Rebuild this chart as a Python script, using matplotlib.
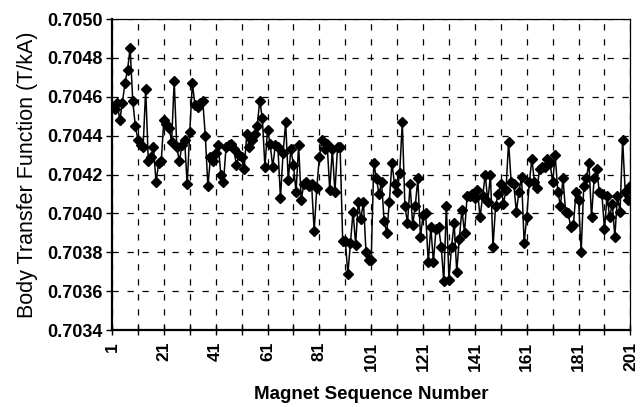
import matplotlib
matplotlib.use("Agg")
import matplotlib.pyplot as plt
import numpy as np

# Magnet sequence numbers and measured body transfer function (T/kA)
sequence = list(range(1, 202))
transfer_function = [
    0.70455, 0.70454, 0.70457, 0.70448, 0.70457, 0.70467, 0.70474, 0.70485, 0.70458, 0.70445,
    0.70438, 0.70435, 0.70434, 0.70464, 0.70427, 0.70429, 0.70434, 0.70416, 0.70426, 0.70427,
    0.70448, 0.70446, 0.70444, 0.70437, 0.70468, 0.70434, 0.70427, 0.70435, 0.70438, 0.70415,
    0.70442, 0.70467, 0.70456, 0.70455, 0.70457, 0.70458, 0.70440, 0.70414, 0.70429, 0.70427,
    0.70431, 0.70435, 0.70420, 0.70416, 0.70434, 0.70435, 0.70436, 0.70433, 0.70425, 0.70430,
    0.70429, 0.70423, 0.70441, 0.70434, 0.70438, 0.70441, 0.70445, 0.70458, 0.70449, 0.70424,
    0.70443, 0.70436, 0.70424, 0.70435, 0.70434, 0.70408, 0.70431, 0.70447, 0.70417, 0.70433,
    0.70425, 0.70411, 0.70435, 0.70407, 0.70415, 0.70416, 0.70414, 0.70415, 0.70391, 0.70413,
    0.70429, 0.70438, 0.70433, 0.70436, 0.70412, 0.70433, 0.70411, 0.70434, 0.70434, 0.70386,
    0.70386, 0.70369, 0.70385, 0.70401, 0.70384, 0.70406, 0.70397, 0.70406, 0.70380, 0.70376,
    0.70376, 0.70426, 0.70418, 0.70410, 0.70416, 0.70396, 0.70390, 0.70406, 0.70426, 0.70415,
    0.70411, 0.70421, 0.70447, 0.70404, 0.70395, 0.70415, 0.70394, 0.70404, 0.70418, 0.70388,
    0.70399, 0.70400, 0.70375, 0.70393, 0.70375, 0.70392, 0.70393, 0.70383, 0.70365, 0.70404,
    0.70366, 0.70383, 0.70395, 0.70370, 0.70387, 0.70402, 0.70390, 0.70409, 0.70409, 0.70410,
    0.70408, 0.70412, 0.70398, 0.70409, 0.70420, 0.70406, 0.70420, 0.70383, 0.70404, 0.70410,
    0.70415, 0.70405, 0.70412, 0.70437, 0.70416, 0.70415, 0.70401, 0.70411, 0.70419, 0.70385,
    0.70398, 0.70416, 0.70428, 0.70416, 0.70413, 0.70423, 0.70424, 0.70424, 0.70428, 0.70426,
    0.70416, 0.70430, 0.70411, 0.70404, 0.70418, 0.70401, 0.70400, 0.70393, 0.70394, 0.70411,
    0.70407, 0.70380, 0.70414, 0.70418, 0.70426, 0.70398, 0.70418, 0.70423, 0.70411, 0.70410,
    0.70392, 0.70409, 0.70398, 0.70405, 0.70388, 0.70409, 0.70401, 0.70438, 0.70411, 0.70407,
    0.70414,
]
x_tick_labels = ["1", "21", "41", "61", "81", "101", "121", "141", "161", "181", "201"]
y_ticks = [0.7034, 0.7036, 0.7038, 0.7040, 0.7042, 0.7044, 0.7046, 0.7048, 0.7050]

plt.rcParams["font.family"] = ["Liberation Sans", "DejaVu Sans"]

fig = plt.figure(figsize=(6.4, 4.07), dpi=100)
ax = fig.add_axes([0.175, 0.189, 0.81, 0.764])

ax.plot(sequence, transfer_function, color="black", linewidth=1.1,
        marker="D", markersize=4.6, markerfacecolor="black",
        markeredgecolor="black", zorder=3)

ax.set_xlim(1, 201)
ax.set_ylim(0.7034, 0.7050)

# Ticks every 10 magnets, labels every 20
tick_positions = np.arange(1, 202, 10)
ax.set_xticks(tick_positions)
labels = []
for pos in tick_positions:
    labels.append(str(pos) if str(pos) in x_tick_labels else "")
ax.set_xticklabels(labels, rotation=90, fontsize=12.5, fontweight="bold")
ax.set_yticks(y_ticks)
ax.set_yticklabels([f"{v:.4f}" for v in y_ticks], fontsize=13, fontweight="bold")
ax.tick_params(axis="x", direction="inout", length=7, width=1, pad=5)
ax.tick_params(axis="y", direction="out", length=4, width=1, pad=3)

ax.grid(True, which="major", color="black", linestyle=(0, (5, 7)), linewidth=0.9)
ax.set_axisbelow(True)

for side in ["left", "bottom"]:
    ax.spines[side].set_linewidth(1.6)
for side in ["top", "right"]:
    ax.spines[side].set_linewidth(0.9)

ax.set_xlabel("Magnet Sequence Number", fontsize=13.5, fontweight="bold", labelpad=11)
ax.set_ylabel("Body Transfer Function (T/kA)", fontsize=15.5, labelpad=6)

fig.savefig("out.png", dpi=100)
